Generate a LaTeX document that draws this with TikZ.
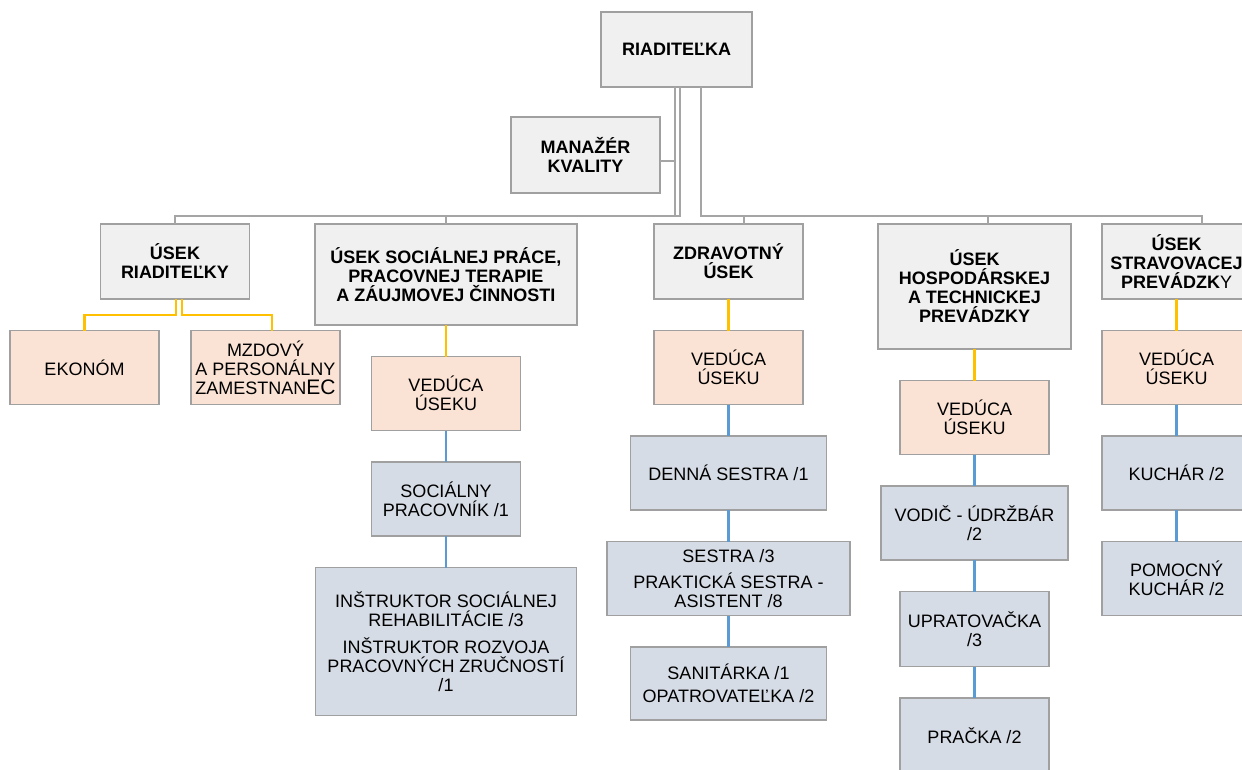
\documentclass[tikz,border=0pt]{standalone}
\usepackage{fontspec}
\setmainfont{Liberation Sans}
\usetikzlibrary{positioning}

\definecolor{boxgray}{HTML}{F0F0F0}
\definecolor{boxpeach}{HTML}{FAE3D5}
\definecolor{boxblue}{HTML}{D6DCE5}
\definecolor{rimgray}{HTML}{A0A0A0}
\definecolor{linegray}{HTML}{A5A5A5}
\definecolor{lineyellow}{HTML}{FFC000}
\definecolor{lineblue}{HTML}{5B9BD5}

\tikzset{
  box/.style={draw=rimgray, line width=1.4pt, align=center, inner sep=0pt, outer sep=0pt,
              minimum width=149pt, minimum height=74pt,
              font=\fontsize{18}{19}\selectfont},
  unitbox/.style={box, fill=boxgray, font=\fontsize{18}{19}\selectfont\bfseries},
  headbox/.style={box, fill=boxpeach},
  staffbox/.style={box, fill=boxblue},
  gline/.style={draw=linegray, line width=2pt},
  yline/.style={draw=lineyellow, line width=2.3pt},
  bline/.style={draw=lineblue, line width=2.3pt}
}

\begin{document}
\begin{tikzpicture}[x=1pt, y=1pt, node distance=31.5pt]
  \useasboundingbox (0,0) rectangle (1242,-769);

  \node[unitbox, minimum width=151pt, minimum height=75pt] (R)  at (676.5,-49.5) {RIADITEĽKA};
  \node[unitbox, minimum height=76pt]                      (MK) at (585.5,-155)  {MANAŽÉR\\KVALITY};

  % sections
  \node[unitbox, anchor=north, minimum height=75pt]                     (U1) at (175,-224)    {ÚSEK\\RIADITEĽKY};
  \node[unitbox, anchor=north, minimum width=262pt, minimum height=101pt] (U2) at (446,-224)    {ÚSEK SOCIÁLNEJ PRÁCE,\\PRACOVNEJ TERAPIE\\A ZÁUJMOVEJ ČINNOSTI};
  \node[unitbox, anchor=north, minimum height=75pt]                     (U3) at (728.5,-224)  {ZDRAVOTNÝ\\ÚSEK};
  \node[unitbox, anchor=north, minimum width=193pt, minimum height=125pt] (U4) at (974.5,-224)  {ÚSEK\\HOSPODÁRSKEJ\\A TECHNICKEJ\\PREVÁDZKY};
  \node[unitbox, anchor=north, minimum height=75pt]                     (U5) at (1176.5,-224) {ÚSEK\\STRAVOVACEJ\\PREVÁDZK\textmd{Y}};

  % heads and staff
  \node[headbox] (E1) [below=of U1, xshift=-90.5pt] {EKONÓM};
  \node[headbox] (E2) [below=of U1, xshift=90.5pt]  {MZDOVÝ\\A PERSONÁLNY\\ZAMESTNAN{\fontsize{21}{19}\selectfont EC}};

  \node[headbox]  (V2)  [below=of U2]  {VEDÚCA\\ÚSEKU};
  \node[staffbox] (P21) [below=of V2]  {SOCIÁLNY\\PRACOVNÍK /1};
  \node[staffbox, minimum width=261pt, minimum height=148pt] (P22) [below=of P21]
        {INŠTRUKTOR SOCIÁLNEJ\\REHABILITÁCIE /3\\[8pt]INŠTRUKTOR ROZVOJA\\PRACOVNÝCH ZRUČNOSTÍ\\/1};

  \node[headbox]  (V3)  [below=of U3]  {VEDÚCA\\ÚSEKU};
  \node[staffbox, minimum width=196pt] (P31) [below=of V3]  {DENNÁ SESTRA /1};
  \node[staffbox, minimum width=243pt] (P32) [below=of P31] {SESTRA /3\\[7pt]PRAKTICKÁ SESTRA -\\ASISTENT /8};
  \node[staffbox, minimum width=196pt, minimum height=73pt] (P33) [below=of P32] {SANITÁRKA /1\\[4pt]OPATROVATEĽKA /2};

  \node[headbox]  (V4)  [below=of U4]  {VEDÚCA\\ÚSEKU};
  \node[staffbox, minimum width=187pt] (P41) [below=of V4]  {VODIČ - ÚDRŽBÁR\\/2};
  \node[staffbox, minimum height=75pt] (P42) [below=of P41] {UPRATOVAČKA\\/3};
  \node[staffbox, minimum height=75pt] (P43) [below=of P42] {PRAČKA /2};

  \node[headbox]  (V5)  [below=of U5]  {VEDÚCA\\ÚSEKU};
  \node[staffbox] (P51) [below=of V5]  {KUCHÁR /2};
  \node[staffbox] (P52) [below=of P51] {POMOCNÝ\\KUCHÁR /2};

  % grey connectors from the top
  \coordinate (bus) at (0,-216);
  \coordinate (d3) at ([xshift=15.5pt]U3.north);
  \coordinate (d4) at ([xshift=13.5pt]U4.north);
  \coordinate (d5) at ([xshift=25.5pt]U5.north);
  \draw[gline] ([xshift=-1.5pt]R.south) |- ([yshift=-6pt]MK.east);
  \draw[gline] ([xshift=-1.5pt]R.south) |- (bus -| U1) -- (U1.north);
  \draw[gline] ([xshift=3.5pt]R.south)  |- (bus -| U2) -- (U2.north);
  \draw[gline] ([xshift=24.5pt]R.south) |- (bus -| d3) -- (d3);
  \draw[gline] ([xshift=24.5pt]R.south) |- (bus -| d4) -- (d4);
  \draw[gline] ([xshift=24.5pt]R.south) |- (bus -| d5) -- (d5);

  % yellow: section to head
  \draw[yline] ([xshift=1pt]U1.south) -- ++(0,-16) -| (E1.north);
  \draw[yline] ([xshift=7pt]U1.south) -- ++(0,-16) -| ([xshift=6.5pt]E2.north);
  \path (U2) edge [yline] (V2)
        (U3) edge [yline] (V3)
        (U4) edge [yline] (V4)
        (U5) edge [yline] (V5);

  % blue: head to staff
  \path (V2)  edge [bline] (P21)
        (P21) edge [bline] (P22)
        (V3)  edge [bline] (P31)
        (P31) edge [bline] (P32)
        (P32) edge [bline] (P33)
        (V4)  edge [bline] (P41)
        (P41) edge [bline] (P42)
        (P42) edge [bline] (P43)
        (V5)  edge [bline] (P51)
        (P51) edge [bline] (P52);
\end{tikzpicture}
\end{document}
